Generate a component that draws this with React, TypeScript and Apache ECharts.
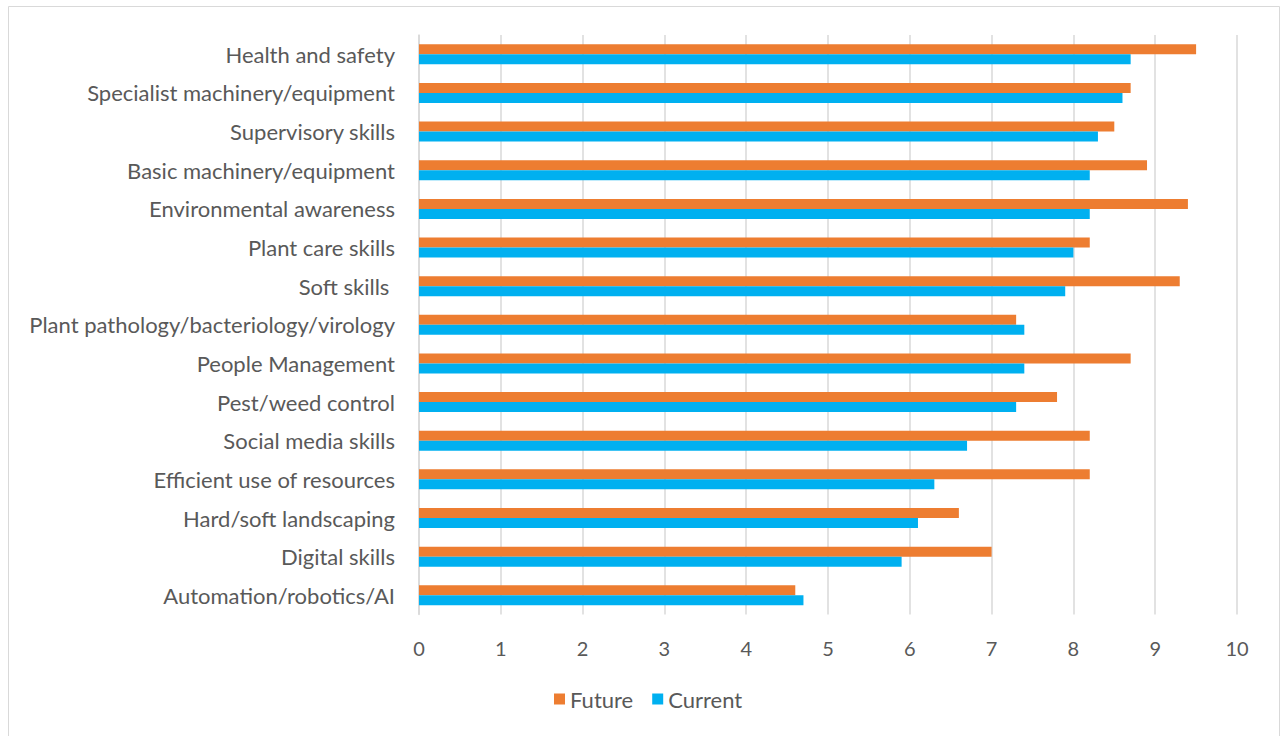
import React, { useEffect, useRef } from "react";
import * as echarts from "echarts";

const categories = [
  "Health and safety",
  "Specialist machinery/equipment",
  "Supervisory skills",
  "Basic machinery/equipment",
  "Environmental awareness",
  "Plant care skills",
  "Soft skills ",
  "Plant pathology/bacteriology/virology",
  "People Management",
  "Pest/weed control",
  "Social media skills",
  "Efficient use of resources",
  "Hard/soft landscaping",
  "Digital skills",
  "Automation/robotics/AI",
];
const futureValues = [9.5, 8.7, 8.5, 8.9, 9.4, 8.2, 9.3, 7.3, 8.7, 7.8, 8.2, 8.2, 6.6, 7.0, 4.6];
const currentValues = [8.7, 8.6, 8.3, 8.2, 8.2, 8.0, 7.9, 7.4, 7.4, 7.3, 6.7, 6.3, 6.1, 5.9, 4.7];
const xTicks = { min: 0, max: 10, interval: 1 };

const FONT = "Lato, 'Noto Sans', sans-serif";
const TEXT = "#595959";
const GRID = "#d9d9d9";

export default function App() {
  const ref = useRef<HTMLDivElement>(null);
  useEffect(() => {
    if (!ref.current) return;
    const chart = echarts.init(ref.current, undefined, { renderer: "svg" });
    chart.setOption({
      animation: false,
      backgroundColor: "#ffffff",
      textStyle: { fontFamily: FONT },
      graphic: [
        {
          type: "rect",
          shape: { x: 8.5, y: 6.5, width: 1271, height: 740 },
          style: { fill: "none", stroke: GRID, lineWidth: 1 },
          silent: true,
        },
      ],
      grid: { left: 419, right: 45, top: 35, height: 579.6, containLabel: false },
      legend: {
        data: ["Future", "Current"],
        bottom: 21,
        left: 549,
        icon: "rect",
        itemWidth: 11,
        itemHeight: 11,
        itemGap: 19,
        textStyle: { fontSize: 22, color: TEXT, fontFamily: FONT },
      },
      xAxis: {
        type: "value",
        min: xTicks.min,
        max: xTicks.max,
        interval: xTicks.interval,
        axisLine: { show: false },
        axisTick: { show: false },
        splitLine: { show: true, lineStyle: { color: GRID, width: 1.5 } },
        axisLabel: { fontSize: 20, color: TEXT, margin: 23, fontFamily: FONT },
      },
      yAxis: {
        type: "category",
        data: categories,
        inverse: true,
        axisLine: { show: true, lineStyle: { color: GRID, width: 1.5 } },
        axisTick: { show: false },
        axisLabel: { fontSize: 22, color: TEXT, margin: 24, fontFamily: FONT },
      },
      series: [
        {
          name: "Future",
          type: "bar",
          data: futureValues,
          barWidth: 10,
          barGap: "0%",
          itemStyle: { color: "#ED7D31" },
        },
        {
          name: "Current",
          type: "bar",
          data: currentValues,
          barWidth: 10,
          barGap: "0%",
          itemStyle: { color: "#00B0F0" },
        },
      ],
    });
    return () => chart.dispose();
  }, []);
  return (
    <div
      ref={ref}
      style={{ position: "absolute", left: 0, top: 0, width: 1282, height: 736 }}
    />
  );
}
